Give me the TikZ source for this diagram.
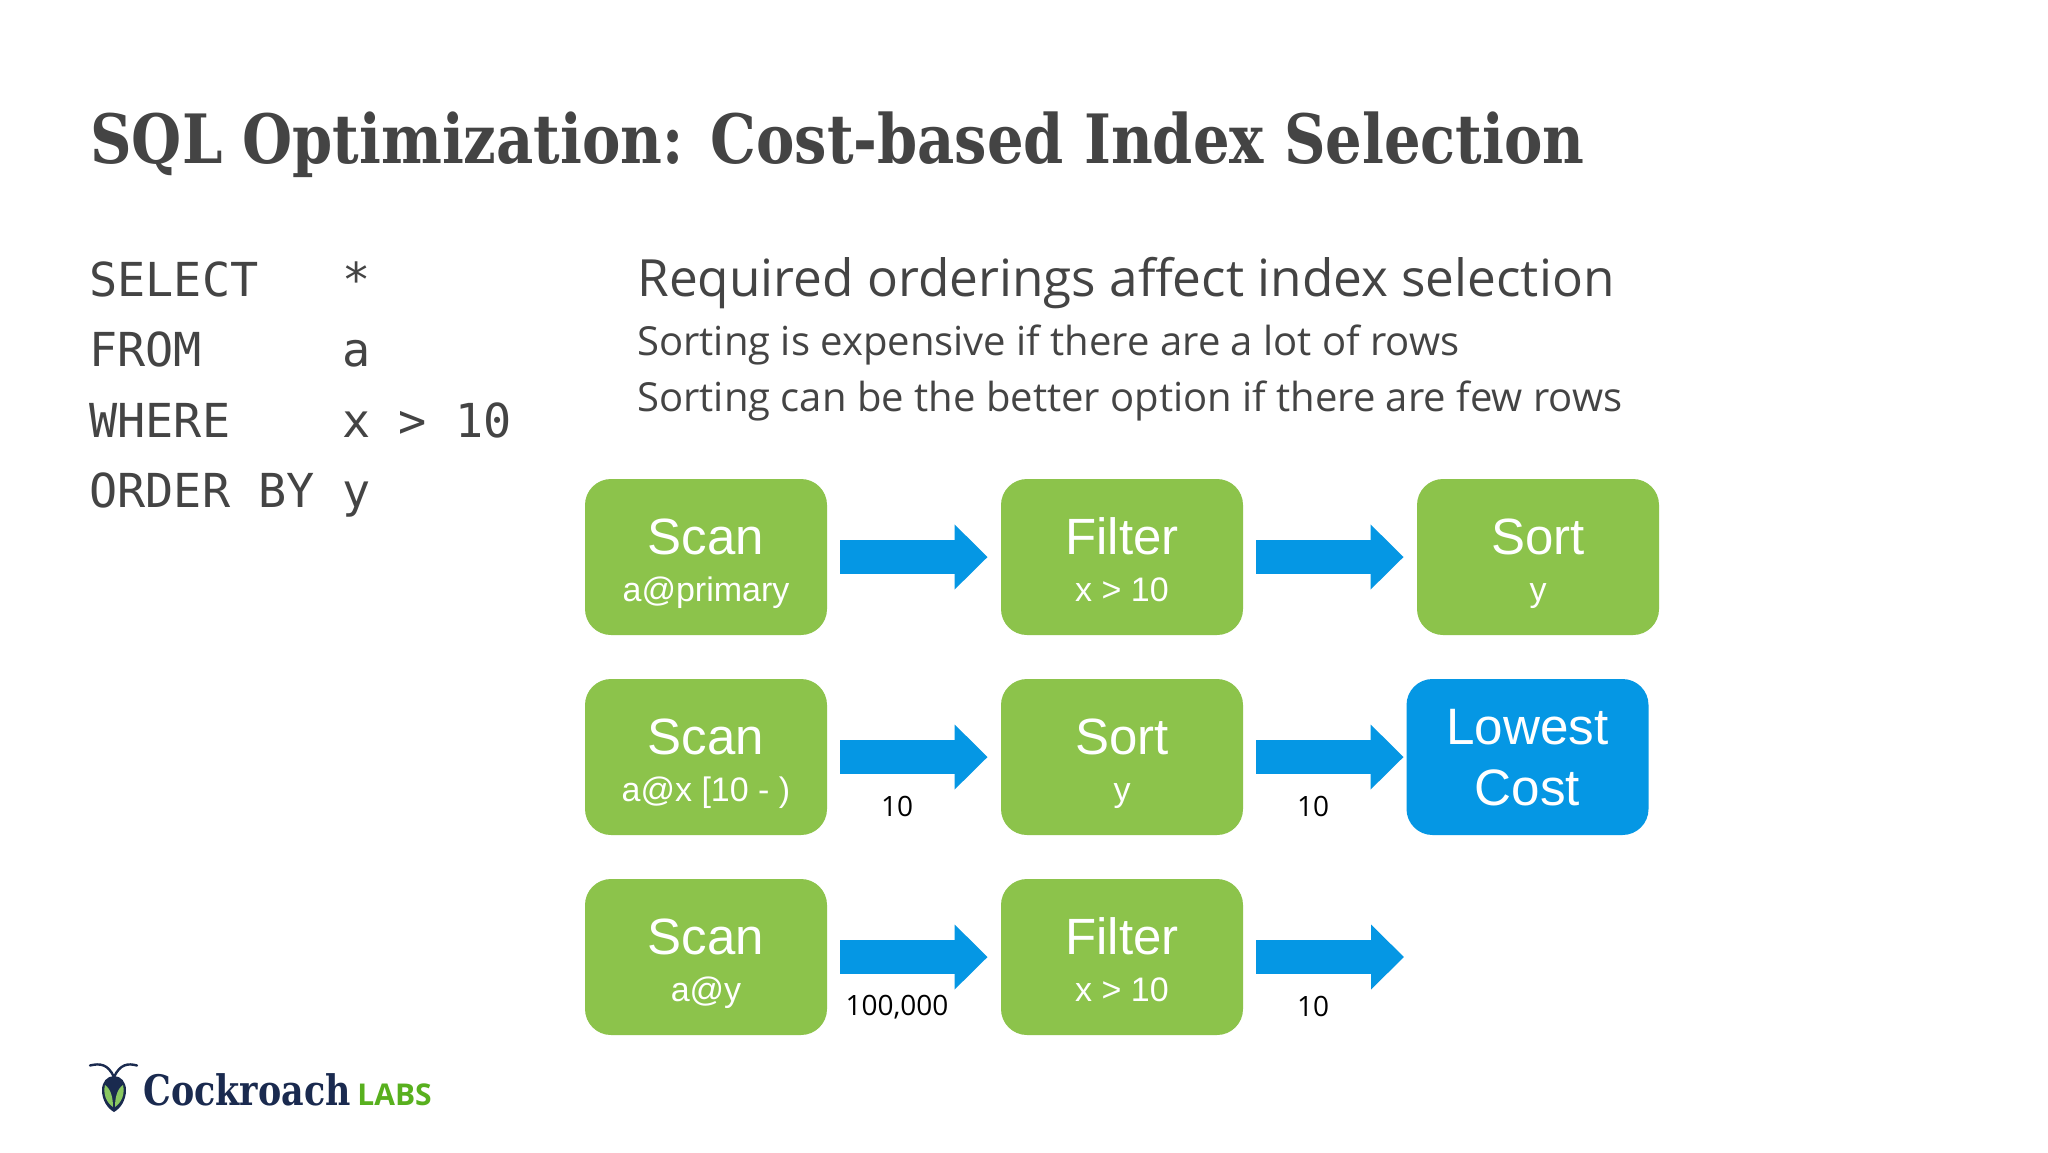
\documentclass[tikz,border=0pt]{standalone}
\usepackage{fontspec}
\setmainfont{Liberation Sans}
\newfontfamily\titlefont[FakeStretch=0.846]{DejaVu Serif Bold}
\newfontfamily\logofont[FakeStretch=0.83]{DejaVu Serif Bold}
\newfontfamily\bodyfont{Open Sans}
\newfontfamily\codefont{DejaVu Sans Mono}
\newfontfamily\labsfont{Open Sans Bold}
\usetikzlibrary{arrows.meta}
\definecolor{boxgreen}{HTML}{8CC34B}
\definecolor{boxblue}{HTML}{0597E4}
\definecolor{ink}{HTML}{444444}
\definecolor{navy}{HTML}{1A2A4F}
\definecolor{logogreen}{HTML}{58B01E}
\tikzset{
  x=0.5pt,y=-0.5pt,
  opbox/.style={rounded corners=13pt,minimum width=121pt,minimum height=78pt,inner sep=0pt,text=white,align=center,fill=#1,font=\fontsize{17}{23.3}\selectfont},
  flow/.style={draw=boxblue,line width=17pt,-{Triangle[width=31.5pt,length=16.5pt,fill=boxblue]}},
  txt/.style={anchor=base west,inner sep=0pt,text=ink},
  code/.style={txt,font=\codefont\fontsize{23.4}{26}\selectfont},
  count/.style={inner sep=0pt,text=black,font=\bodyfont\fontsize{14}{16}\selectfont},
}
\newcommand{\optext}[2]{\rule{0pt}{25.9pt}{\fontsize{25.5}{23.3}\selectfont #1}\\#2\rule[-5pt]{0pt}{5pt}}
\begin{document}
\begin{tikzpicture}
\useasboundingbox (0,0) rectangle (2048,1152);
\fill[white] (0,0) rectangle (2048,1152);
% title and text
\node[txt,font=\titlefont\fontsize{34}{40}\selectfont] (title) at (90,163) {SQL Optimization: Cost-based Index Selection};
\node[code] (c1) at (89,296.5) {SELECT};
\node[code] (v1) at (342,296.5) {*};
\node[code] (c2) at (89,366.5) {FROM};
\node[code] (v2) at (342,366.5) {a};
\node[code] (c3) at (89,437.5) {WHERE};
\node[code] (v3) at (342,437.5) {x > 10};
\node[code] (c4) at (89,507.5) {ORDER BY};
\node[code] (v4) at (342,507.5) {y};
\node[txt,font=\bodyfont\fontsize{25.65}{28}\selectfont] (head) at (637,296.3) {Required orderings affect index selection};
\node[txt,font=\bodyfont\fontsize{20}{24}\selectfont] (s1) at (637,355.8) {Sorting is expensive if there are a lot of rows};
\node[txt,font=\bodyfont\fontsize{20}{24}\selectfont] (s2) at (637,411.8) {Sorting can be the better option if there are few rows};
% boxes
\node[opbox=boxgreen] (a1) at (706,557) {\optext{Scan}{a@primary}};
\node[opbox=boxgreen] (b1) at (1122,557) {\optext{Filter}{x > 10}};
\node[opbox=boxgreen] (d1) at (1538,557) {\optext{Sort}{y}};
\node[opbox=boxgreen] (a2) at (706,757) {\optext{Scan}{a@x [10 - )}};
\node[opbox=boxgreen] (b2) at (1122,757) {\optext{Sort}{y}};
\node[opbox=boxblue,font=\fontsize{25.6}{30.5}\selectfont] (d2) at (1527.5,757) {\rule{0pt}{18.6pt}Lowest\\Cost};
\node[opbox=boxgreen] (a3) at (706,957) {\optext{Scan}{a@y}};
\node[opbox=boxgreen] (b3) at (1122,957) {\optext{Filter}{x > 10}};
\coordinate (e3) at (1404,957);
% connectors
\draw[flow] ([xshift=6.5pt]a1.east) -- ([xshift=-6.5pt]b1.west);
\draw[flow] ([xshift=6.5pt]b1.east) -- ([xshift=-6.5pt]d1.west);
\draw[flow] ([xshift=6.5pt]a2.east) -- ([xshift=-6.5pt]b2.west);
\draw[flow] ([xshift=6.5pt]b2.east) -- ([xshift=-1.25pt]d2.west);
\draw[flow] ([xshift=6.5pt]a3.east) -- ([xshift=-6.5pt]b3.west);
\draw[flow] ([xshift=6.5pt]b3.east) -- (e3);
% counts
\node[count] (n1) at (897,806) {10};
\node[count] (n2) at (1313,806) {10};
\node[count] (n3) at (897,1007) {100,000};
\node[count] (n4) at (1313,1006) {10};
% logo
\draw[navy,line width=1.2pt,line cap=round] (90,1065.5) .. controls (100,1063) and (108,1064) .. (114,1077) .. controls (120,1064) and (128,1063) .. (137,1065.5);
\fill[navy] (114,1112) .. controls (107,1108) and (102,1100) .. (102,1090) .. controls (102,1082) and (107,1076) .. (114,1076) .. controls (121,1076) and (126,1082) .. (126,1090) .. controls (126,1100) and (121,1108) .. (114,1112) -- cycle;
\fill[logogreen!70!white] (113,1107) .. controls (106,1102) and (103,1094) .. (105,1085) .. controls (111,1089) and (113,1098) .. (113,1107) -- cycle;
\fill[logogreen!70!white] (115,1107) .. controls (122,1102) and (125,1094) .. (123,1085) .. controls (117,1089) and (115,1098) .. (115,1107) -- cycle;
\node[anchor=base west,inner sep=0pt,text=navy,font=\logofont\fontsize{21}{24}\selectfont] (cr) at (143,1105) {Cockroach};
\node[anchor=base west,inner sep=0pt,text=logogreen,font=\labsfont\fontsize{15}{16}\selectfont] (labs) at (357,1105) {LABS};
\end{tikzpicture}
\end{document}
